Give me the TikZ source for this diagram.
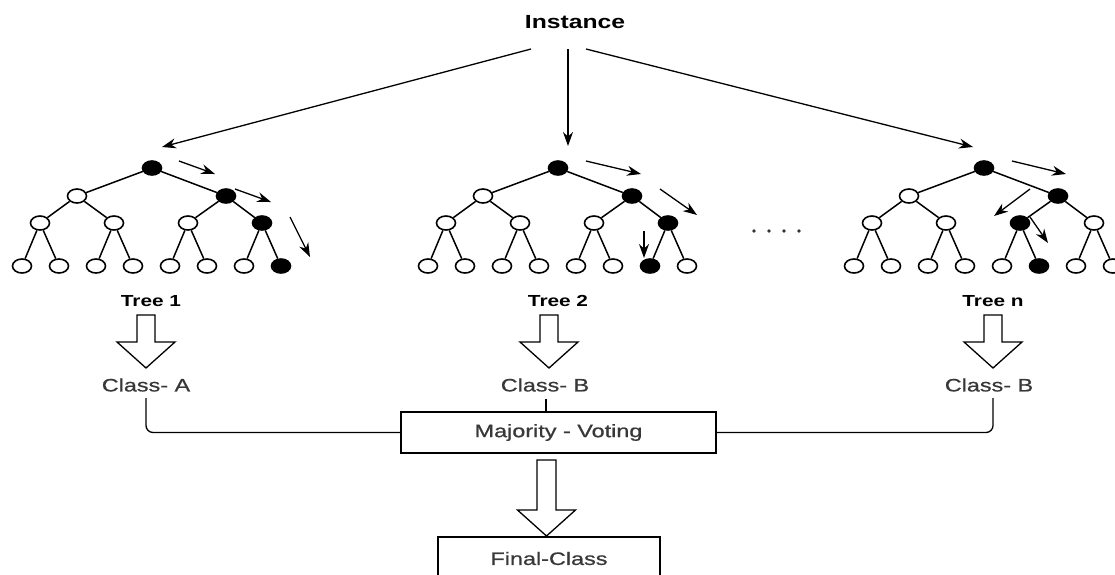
\documentclass[tikz,border=0pt]{standalone}
\usepackage{fontspec}
\setmainfont{Liberation Sans}[FakeStretch=1.3]
\newfontfamily\midfont{Liberation Sans}[FakeStretch=1.3,FakeBold=0.8]
\usetikzlibrary{shapes.geometric,arrows.meta}

\tikzset{
  leaf/.style={ellipse, draw, line width=1.6pt, fill=white,
    minimum width=19pt, minimum height=14pt, inner sep=0pt},
  hit/.style={leaf, fill=black},
  branch/.style={line width=1.5pt},
  flow/.style={line width=1.3pt, -{Stealth[length=14pt,width=10pt]}},
  hollow/.style={draw, line width=1.3pt, fill=white, line join=miter},
  treelbl/.style={font=\fontsize{16}{18}\selectfont\bfseries, inner sep=2pt},
  cls/.style={font=\fontsize{18}{20}\selectfont\midfont, text=black!78, inner sep=2pt},
  panel/.style={draw, line width=1.4pt, inner sep=0pt,
    font=\fontsize{18}{20}\selectfont\midfont, text=black!78},
  joint/.style={line width=1.3pt, rounded corners=7pt},
}

% one decision tree: prefix, root x, marked level-2 node, marked leaf
\newcommand{\rftree}[4]{%
  \node[hit]  (#1r)  at (#2,168) {};
  \node[leaf] (#1a1) at ({#2-75},196) {};
  \node[hit]  (#1a2) at ({#2+74},196) {};
  \foreach \k/\dx in {1/-112,2/-38,3/36,4/110}{
    \edef\fc{\ifnum\k=#3 black\else white\fi}
    \node[leaf, fill=\fc] (#1b\k) at ({#2+(\dx)},223) {};
  }
  \foreach \k in {1,...,8}{
    \edef\fc{\ifnum\k=#4 black\else white\fi}
    \node[leaf, fill=\fc] (#1c\k) at ({#2-167+37*\k},266) {};
  }
  \draw[branch] (#1r) -- (#1a1) (#1r) -- (#1a2)
    (#1a1) -- (#1b1) (#1a1) -- (#1b2) (#1a2) -- (#1b3) (#1a2) -- (#1b4);
  \foreach \k in {1,...,4}{
    \pgfmathtruncatemacro\m{2*\k-1}
    \pgfmathtruncatemacro\n{2*\k}
    \draw[branch] (#1b\k) -- (#1c\m) (#1b\k) -- (#1c\n);
  }
}

% hollow block arrow: centre x, top, head start, tip, half shaft, half head
\newcommand{\blockdown}[6]{%
  \draw[hollow] ({#1-#5},#2) -- ({#1+#5},#2) -- ({#1+#5},#3) -- ({#1+#6},#3)
    -- (#1,#4) -- ({#1-#6},#3) -- ({#1-#5},#3) -- cycle;
}

\begin{document}
\begin{tikzpicture}[x=1pt,y=-1pt]
\useasboundingbox (0,0) rectangle (1115,574);
\clip (0,0) rectangle (1115,574);

% input instance and its three routes
\node[font=\fontsize{19}{21}\selectfont\bfseries] (inst) at (575,22) {Instance};
\coordinate (s1) at (531,49);
\coordinate (s2) at (568,49);
\coordinate (s3) at (586,49);
\coordinate (e1) at (162,147);
\coordinate (e2) at (568,146);
\coordinate (e3) at (973,147);
\draw[flow] (s1) -- (e1);
\draw[flow] (s2) -- (e2);
\draw[flow] (s3) -- (e3);

% the forest
\rftree{ta}{152}{4}{8}
\rftree{tb}{558}{4}{7}
\rftree{tn}{984}{3}{6}

% decision paths, tree 1
\coordinate (pa1) at (179,161); \coordinate (qa1) at (215,174);
\coordinate (pa2) at (235,189); \coordinate (qa2) at (271,202);
\coordinate (pa3) at (290,217); \coordinate (qa3) at (310,257);
% decision paths, tree 2
\coordinate (pb1) at (586,161); \coordinate (qb1) at (641,174);
\coordinate (pb2) at (660,189); \coordinate (qb2) at (697,215);
\coordinate (pb3) at (644,231); \coordinate (qb3) at (644,258);
% decision paths, tree n
\coordinate (pn1) at (1012,161); \coordinate (qn1) at (1066,174);
\coordinate (pn2) at (1030,189); \coordinate (qn2) at (994,216);
\coordinate (pn3) at (1030,217); \coordinate (qn3) at (1048,243);
\foreach \t in {a,b,n}{
  \foreach \j in {1,2,3}{
    \draw[flow] (p\t\j) -- (q\t\j);
  }
}

% ellipsis between the trees
\foreach \x in {754,769,784,799}{
  \fill[black!80] (\x,231) circle (1.8);
}

% tree labels
\node[treelbl] (la) at (151,301) {Tree 1};
\node[treelbl] (lb) at (558,301) {Tree 2};
\node[treelbl] (ln) at (993,301) {Tree n};

% per-tree votes
\blockdown{146}{315}{342}{368}{9}{29}
\blockdown{549}{315}{342}{368}{9}{29}
\blockdown{993}{315}{342}{368}{9}{29}

\node[cls] (ca) at (146,385) {Class- A};
\node[cls] (cb) at (545,385) {Class- B};
\node[cls] (cn) at (989,385) {Class- B};

% aggregation
\node[panel, minimum width=315pt, minimum height=41pt] (vote) at (558.5,432.5) {Majority - Voting};
\coordinate (ja) at (146,398);
\coordinate (jb) at (546,399);
\coordinate (jn) at (993,398);
\draw[joint] (ja) |- (vote.west);
\draw[joint] (jn) |- (vote.east);
\draw[line width=1.3pt] (jb) -- (jb |- vote.north);

\blockdown{546.5}{460}{510}{536}{9.5}{29}

\node[panel, minimum width=222pt, minimum height=43pt] (final) at (549,558.5) {Final-Class};
\end{tikzpicture}
\end{document}
